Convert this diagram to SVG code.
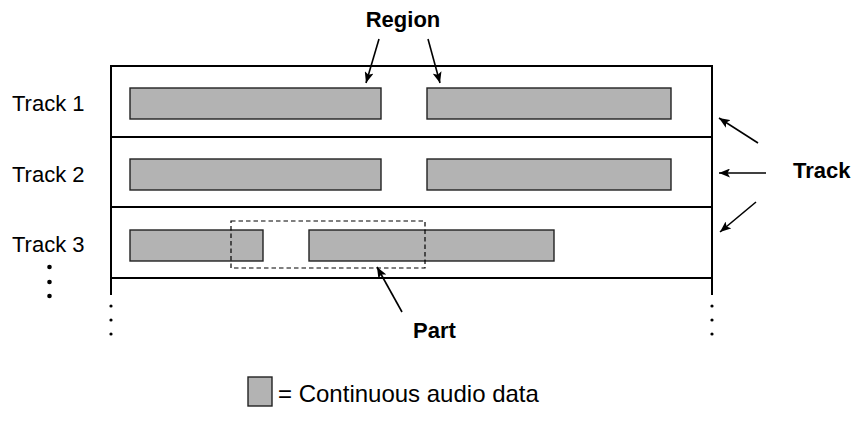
<svg xmlns="http://www.w3.org/2000/svg" width="851" height="434" viewBox="0 0 851 434">
<defs>
<marker id="ah" markerUnits="userSpaceOnUse" markerWidth="12" markerHeight="9" refX="11" refY="4.5" orient="auto">
<path d="M0,0 L11,4.5 L0,9 L2.5,4.5 z" fill="#000"/>
</marker>
</defs>
<style>
.lbl{font-family:"Liberation Sans",Arial,sans-serif;font-size:22px;fill:#000}
.b{font-weight:bold}
.frame{fill:none;stroke:#000;stroke-width:2}
.reg{fill:#b3b3b3;stroke:#222;stroke-width:1.4}
.arr{fill:none;stroke:#000;stroke-width:1.6;marker-end:url(#ah)}
.dot{fill:#000}
</style>
<rect width="851" height="434" fill="#fff"/>
<g id="frame">
<line class="frame" x1="111" y1="66" x2="712" y2="66"/>
<line class="frame" x1="111" y1="137" x2="712" y2="137"/>
<line class="frame" x1="111" y1="207" x2="712" y2="207"/>
<line class="frame" x1="111" y1="278" x2="712" y2="278"/>
<line class="frame" x1="111" y1="65" x2="111" y2="295"/>
<line class="frame" x1="712" y1="65" x2="712" y2="295"/>
<circle class="dot" cx="111" cy="306" r="1.6"/>
<circle class="dot" cx="111" cy="320" r="1.6"/>
<circle class="dot" cx="111" cy="334" r="1.6"/>
<circle class="dot" cx="712" cy="306" r="1.6"/>
<circle class="dot" cx="712" cy="320" r="1.6"/>
<circle class="dot" cx="712" cy="334" r="1.6"/>
</g>
<g id="track1">
<text class="lbl" x="12" y="111">Track 1</text>
<rect class="reg" x="130" y="88" width="251" height="31"/>
<rect class="reg" x="427" y="88" width="244" height="31"/>
</g>
<g id="track2">
<text class="lbl" x="12" y="182">Track 2</text>
<rect class="reg" x="130" y="159" width="251" height="31"/>
<rect class="reg" x="427" y="159" width="244" height="31"/>
</g>
<g id="track3">
<text class="lbl" x="12" y="252">Track 3</text>
<rect class="reg" x="130" y="230" width="133" height="31"/>
<rect class="reg" x="309" y="230" width="245" height="31"/>
<circle class="dot" cx="49.5" cy="267" r="2.3"/>
<circle class="dot" cx="49.5" cy="282" r="2.3"/>
<circle class="dot" cx="49.5" cy="296" r="2.3"/>
</g>
<g id="part">
<rect x="231" y="221" width="194" height="47" fill="none" stroke="#000" stroke-width="1.2" stroke-dasharray="4.5,3"/>
<text class="lbl b" x="413" y="338">Part</text>
</g>
<g id="region-label">
<text class="lbl b" x="403" y="27" text-anchor="middle">Region</text>
</g>
<g id="track-label">
<text class="lbl b" x="793" y="178">Track</text>
</g>
<g id="legend">
<rect class="reg" x="248" y="377" width="24" height="29"/>
<text class="lbl" x="278" y="402" style="font-size:24px">= Continuous audio data</text>
</g>
<g id="connectors">
<line class="arr" x1="379" y1="39" x2="366" y2="83"/>
<line class="arr" x1="428" y1="39" x2="440" y2="83"/>
<line class="arr" x1="758" y1="143" x2="719" y2="118"/>
<line class="arr" x1="766" y1="173" x2="719" y2="173"/>
<line class="arr" x1="756" y1="202" x2="720" y2="232"/>
<line class="arr" x1="402" y1="312" x2="377" y2="267"/>
</g>
</svg>
